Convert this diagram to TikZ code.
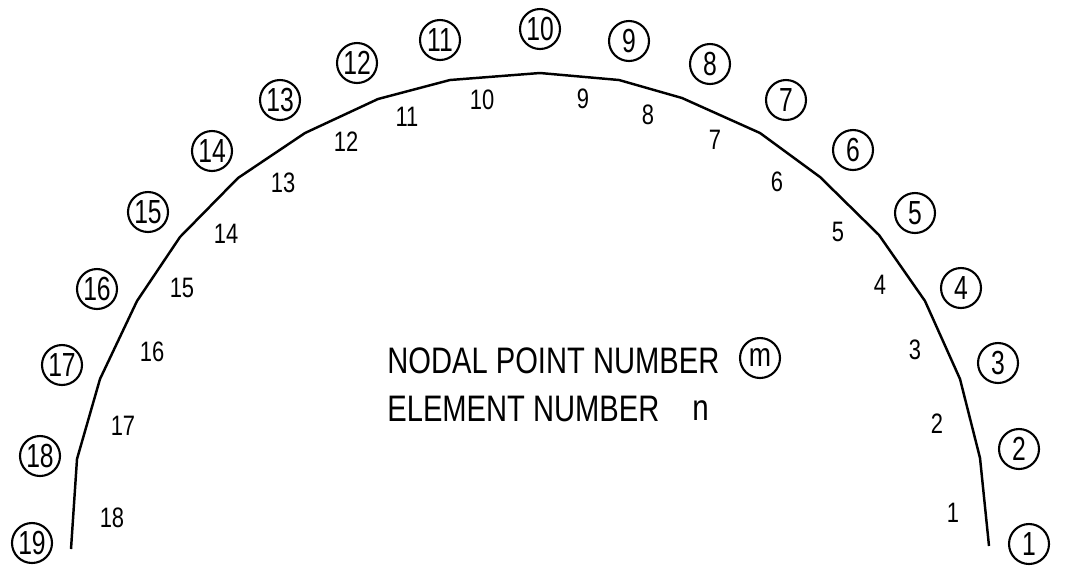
\documentclass[tikz,border=0pt]{standalone}
\usepackage{fontspec}
\usepackage{graphicx}
\usepackage{tikz}
\setmainfont{Liberation Sans}

\newcommand{\narrow}[2][0.78]{\scalebox{#1}[1]{#2}}

\begin{document}
\begin{tikzpicture}[x=0.02cm, y=-0.02cm,
    nodal/.style={circle, draw, line width=1.2pt, minimum size=0.8cm, inner sep=0pt, font=\fontsize{19}{19}\selectfont},
    elem/.style={inner sep=0pt, font=\fontsize{16}{16}\selectfont},
    legend/.style={inner sep=0pt, anchor=west, font=\fontsize{21}{21}\selectfont}]
    \useasboundingbox (0,0) rectangle (1067,566);
    % arch vertices
    \foreach \i/\px/\py in {1/989/546, 2/980/458, 3/960/379, 4/925/301, 5/879/235,
      6/820/177, 7/760/133, 8/682/98, 9/619/80, 10/540/73, 11/450/80, 12/378/99,
      13/305/133, 14/238/178, 15/180/237, 16/137/301, 17/100/379, 18/77/459, 19/71/549}{
      \coordinate (p\i) at (\px,\py);
    }
    \draw[line width=1.4pt, line join=round] (p1) \foreach \i in {2,...,19}{ -- (p\i)};
    % nodal point numbers
    \foreach \i/\px/\py in {1/1029/544, 2/1019/449, 3/998/363, 4/961/288, 5/915/213,
      6/853/150, 7/786/100, 8/710/64, 9/629/41, 10/540/29, 11/440/40, 12/357/63,
      13/280/100, 14/212/151, 15/148/212, 16/97/289, 17/62/365, 18/40/456, 19/32/543}{
      \node[nodal] (m\i) at (\px,\py) {\narrow[0.74]{\i}};
    }
    % element numbers
    \foreach \i/\px/\py in {1/953/513, 2/937/424, 3/915/350, 4/880/285, 5/838/232,
      6/777/182, 7/715/140, 8/648/115, 9/583/99, 10/482/100, 11/407/117, 12/346/142,
      13/283/183, 14/226/234, 15/182/288, 16/152/352, 17/123/426, 18/112/518}{
      \node[elem] (e\i) at (\px,\py) {\narrow{\i}};
    }
    % key
    \node[legend] (nodalkey) at (387,361) {\narrow[0.79]{NODAL POINT NUMBER}};
    \node[nodal] (mkey) at (760,358) {\narrow[0.8]{m}};
    \node[legend] (elemkey) at (387,409) {\narrow[0.79]{ELEMENT NUMBER}};
    \node[legend] (nkey) at (692,411) {\narrow[0.8]{n}};
\end{tikzpicture}
\end{document}
